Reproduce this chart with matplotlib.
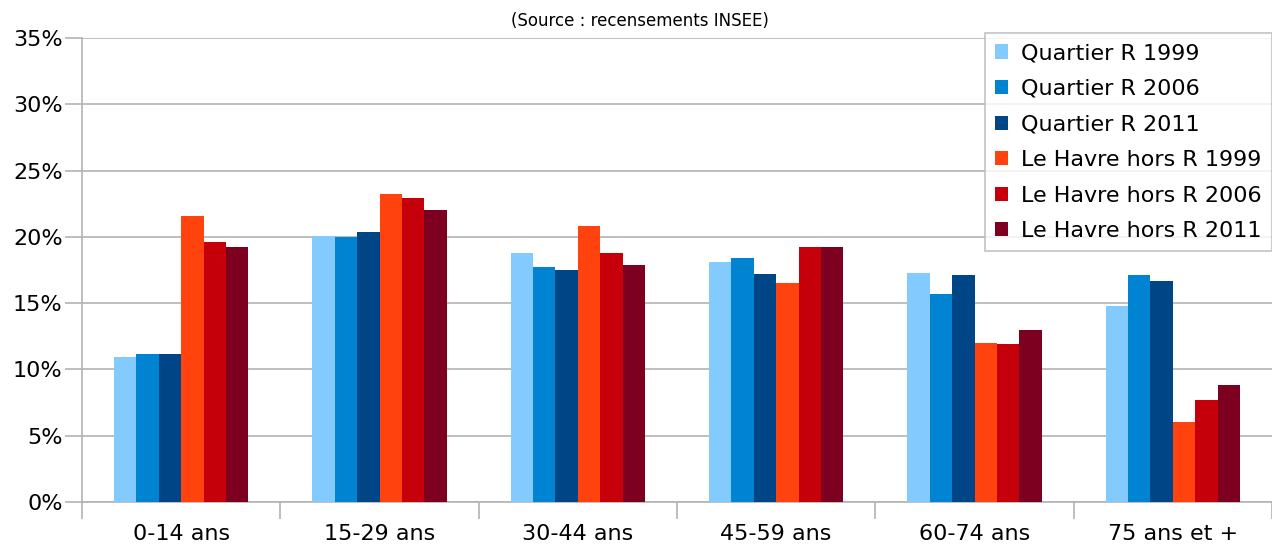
import numpy as np
import matplotlib
matplotlib.use('Agg')
import matplotlib.pyplot as plt
from matplotlib.ticker import FixedLocator, FuncFormatter

categories = ['0-14 ans', '15-29 ans', '30-44 ans', '45-59 ans', '60-74 ans', '75 ans et +']
series = ['Quartier R 1999', 'Quartier R 2006', 'Quartier R 2011',
          'Le Havre hors R 1999', 'Le Havre hors R 2006', 'Le Havre hors R 2011']
quartier_1999 = [10.9, 20.1, 18.8, 18.1, 17.3, 14.8]
quartier_2006 = [11.2, 20.0, 17.7, 18.4, 15.7, 17.1]
quartier_2011 = [11.2, 20.4, 17.5, 17.2, 17.1, 16.7]
havre_1999 = [21.6, 23.2, 20.8, 16.5, 12.0, 6.0]
havre_2006 = [19.6, 22.9, 18.8, 19.2, 11.9, 7.7]
havre_2011 = [19.2, 22.0, 17.9, 19.2, 13.0, 8.8]
colors = ['#83CAFF', '#0084D1', '#004586', '#FF420E', '#C5000B', '#7E0021']

values = [quartier_1999, quartier_2006, quartier_2011, havre_1999, havre_2006, havre_2011]

fig = plt.figure(figsize=(12.72, 5.49), dpi=100)
ax = fig.add_axes([0.0645, 0.0856, 0.9355, 0.8452])

x = np.arange(len(categories))
w = 0.113
for i, (vals, lab, col) in enumerate(zip(values, series, colors)):
    ax.bar(x + (i - 2.5) * w, vals, width=w, color=col, label=lab, zorder=3)

ax.set_xlim(-0.5, len(categories) - 0.5)
ax.set_ylim(0, 35)
ax.set_yticks(np.arange(0, 36, 5))
ax.yaxis.set_major_formatter(FuncFormatter(lambda v, p: f'{v:.0f}%'))
ax.grid(True, axis='y', color='#b3b3b3', lw=1.2, zorder=0)

ax.set_xticks(x)
ax.set_xticklabels(categories, fontsize=16)
ax.xaxis.set_minor_locator(FixedLocator(np.arange(-0.5, len(categories), 1)))
ax.tick_params(axis='x', which='major', length=0, pad=16)
ax.tick_params(axis='x', which='minor', length=12, color='#b3b3b3', width=1.2)
ax.tick_params(axis='y', length=12, color='#b3b3b3', width=1.2, labelsize=16, pad=2)

for s in ['top', 'right']:
    ax.spines[s].set_visible(False)
for s in ['left', 'bottom']:
    ax.spines[s].set_color('#b3b3b3')
    ax.spines[s].set_linewidth(1.2)

leg = ax.legend(loc='upper right', bbox_to_anchor=(1.0, 1.01), fontsize=16,
                frameon=True, fancybox=False, handlelength=0.6, handleheight=0.6,
                handletextpad=0.6, labelspacing=0.7, borderpad=0.45,
                borderaxespad=0)
leg.get_frame().set_edgecolor('#b3b3b3')
leg.get_frame().set_linewidth(1.2)

fig.text(0.503, 0.962, '(Source : recensements INSEE)', ha='center', va='center', fontsize=12)

fig.savefig('out.png', dpi=100)
